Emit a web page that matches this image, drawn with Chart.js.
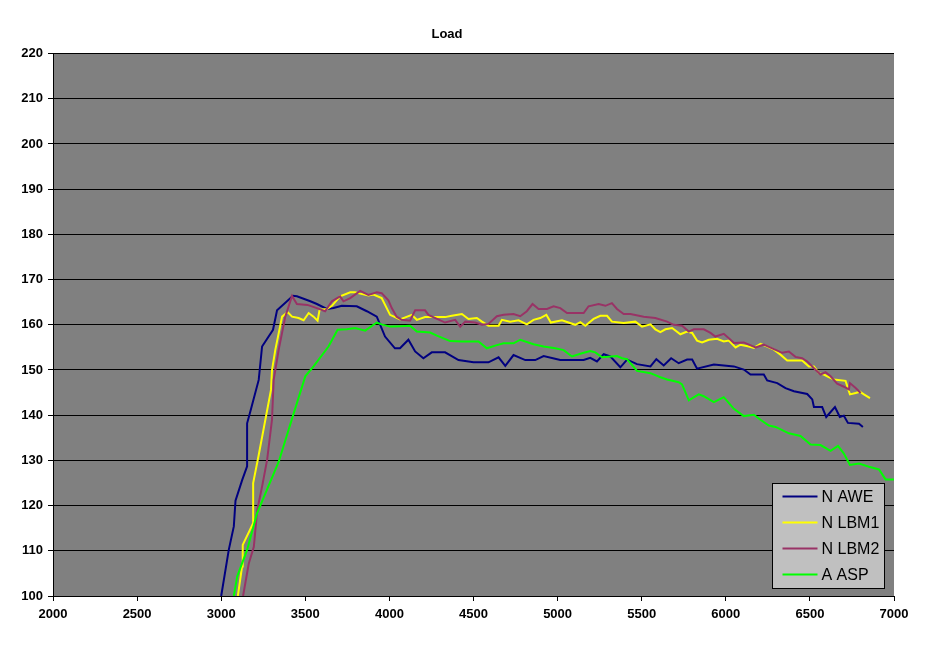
<!DOCTYPE html>
<html lang="en">
<head>
  <meta charset="UTF-8">
  <title>Load</title>
  <script src="https://cdn.jsdelivr.net/npm/chart.js@4/dist/chart.umd.min.js"></script>
  <style>
    body { margin: 0; background: #fff; }
  </style>
</head>
<body>
  <canvas id="chart" width="943" height="646"></canvas>
  <script>
    // values
    const aweX = [3000,3045,3075,3085,3125,3154,3154,3170,3223,3243,
      3308,3332,3427,3450,3530,3569,3628,3668,3717,3806,
      3866,3925,3974,4033,4063,4113,4153,4202,4252,4331,
      4411,4500,4589,4649,4689,4738,4808,4867,4917,5016,
      5155,5194,5234,5274,5313,5373,5413,5472,5552,5587,
      5631,5675,5720,5770,5800,5829,5929,6048,6107,6147,
      6226,6246,6306,6355,6405,6484,6514,6524,6573,6597,
      6649,6678,6702,6726,6792,6815];
    const aweY = [100,110.2,115.4,121.1,125.7,128.7,138.2,140.4,147.8,155.2,
      158.9,163.2,166.4,166.3,165.2,164.6,163.5,163.7,164.2,164.1,
      163.0,161.8,157.4,154.8,154.8,156.7,154.1,152.6,153.9,153.9,
      152.2,151.7,151.7,152.8,150.9,153.3,152.2,152.2,153.1,152.2,
      152.2,152.7,151.9,153.5,153.0,150.6,152.3,151.3,150.8,152.4,
      151.0,152.6,151.5,152.3,152.3,150.3,151.2,150.8,150.1,149.0,
      149.0,147.7,147.1,146.0,145.3,144.7,143.5,141.8,141.8,139.6,
      141.8,139.6,139.9,138.3,138.1,137.4];

    const lbm1X = [3099,3124,3128,3190,3190,3223,3296,3302,3322,3362,
      3395,3421,3460,3490,3520,3549,3573,3585,3628,3658,
      3707,3767,3796,3826,3875,3905,3954,4004,4063,4133,
      4163,4212,4282,4331,4371,4431,4470,4520,4550,4589,
      4649,4669,4718,4768,4817,4857,4897,4933,4960,5026,
      5105,5135,5165,5214,5254,5294,5323,5393,5462,5502,
      5552,5581,5611,5641,5681,5730,5770,5800,5829,5859,
      5899,5948,5988,6018,6058,6087,6137,6167,6206,6246,
      6286,6325,6365,6454,6494,6524,6553,6583,6609,6643,
      6712,6738,6772,6797,6821,6857];
    const lbm1Y = [100,106.5,111.3,116.1,125.0,131.2,145.6,150.0,154.5,161.8,
      162.8,161.8,161.5,161.0,162.6,161.8,160.9,163.3,163.5,164.2,
      166.3,167.2,167.2,166.9,166.5,166.7,165.9,162.2,161.2,162.2,
      161.1,161.7,161.7,161.7,162.0,162.4,161.3,161.5,160.7,159.8,
      159.8,161.1,160.7,161.0,160.1,161.1,161.5,162.2,160.5,161.0,
      160.0,160.6,159.8,161.3,162.0,162.0,160.7,160.4,160.7,159.6,
      160.1,159.0,158.4,159.0,159.3,157.9,158.5,158.2,156.5,156.1,
      156.7,156.9,156.3,156.5,155.0,155.6,155.2,154.9,155.8,155.2,
      154.5,153.4,152.1,152.1,150.8,150.8,149.3,149.0,148.5,147.9,
      147.6,144.6,144.9,145.2,144.6,143.8];

    const lbm2X = [3130,3164,3194,3214,3243,3273,3302,3312,3342,3381,
      3421,3450,3513,3569,3618,3658,3707,3727,3767,3826,
      3875,3925,3954,3994,4014,4043,4073,4123,4153,4212,
      4232,4331,4391,4421,4451,4510,4550,4589,4639,4679,
      4738,4778,4817,4851,4887,4937,4976,5016,5056,5155,
      5184,5244,5284,5323,5353,5393,5433,5512,5581,5651,
      5690,5740,5780,5810,5869,5909,5938,5988,6028,6048,
      6107,6177,6226,6286,6335,6375,6414,6454,6484,6524,
      6563,6593,6623,6662,6702,6732,6738,6772,6802];
    const lbm2Y = [100,107.2,110.9,119.0,124.2,130.1,139.0,147.8,154.5,161.8,
      166.4,164.6,164.4,163.7,163.0,165.2,166.3,165.2,165.9,167.5,
      166.6,167.2,167.0,165.4,163.7,161.8,161.1,160.9,163.2,163.2,
      162.2,160.5,161.1,159.6,160.7,160.5,160.0,160.2,161.9,162.2,
      162.4,161.9,163.0,164.6,163.5,163.5,164.1,163.7,162.6,162.6,
      164.1,164.6,164.2,164.8,163.5,162.4,162.4,161.8,161.5,160.7,
      160.0,159.8,158.5,159.0,159.0,158.2,157.4,158.0,156.7,156.0,
      156.1,155.0,155.6,154.6,153.8,154.1,152.9,152.6,151.9,150.4,
      149.0,149.5,148.6,147.0,146.3,145.7,147.1,146.0,144.9];

    const aspX = [3075,3095,3124,3154,3213,3342,3431,3500,3549,3638,
      3692,3747,3796,3856,3925,3954,4004,4063,4123,4163,
      4242,4282,4361,4431,4530,4579,4629,4679,4738,4778,
      4857,4917,4986,5036,5085,5145,5194,5224,5264,5353,
      5383,5413,5472,5552,5611,5651,5720,5740,5780,5839,
      5869,5929,5988,6048,6107,6167,6206,6256,6296,6375,
      6444,6504,6563,6623,6667,6702,6738,6792,6851,6911,
      6950,7000];
    const aspY = [100,104.3,107.2,110.2,118.3,129.7,140.4,148.6,150.8,155.2,
      158.9,159.0,159.3,158.7,160.5,160.1,159.6,159.7,159.8,158.5,
      158.3,157.6,156.4,156.3,156.3,154.8,155.4,155.9,155.9,156.7,
      155.7,155.2,154.8,154.4,153.0,153.7,154.2,153.9,152.8,153.1,
      152.6,152.4,149.8,149.3,148.4,147.9,147.3,146.8,143.3,144.6,
      144.2,142.9,144.0,141.4,139.8,140.1,139.0,137.7,137.4,136.0,
      135.4,133.5,133.4,132.1,133.2,131.5,129.0,129.3,128.6,128.0,
      125.8,125.8];

    const seriesNames = ['N AWE', 'N LBM1', 'N LBM2', 'A ASP'];
    const seriesColors = ['#000080', '#ffff00', '#993366', '#00ff00'];

    function pairs(xs, ys) {
      return xs.map((x, i) => ({ x: x, y: ys[i] }));
    }

    const FONT = '"Liberation Sans", Arial, sans-serif';

    // grey plot background
    const plotBg = {
      id: 'plotBg',
      beforeDraw(chart) {
        const a = chart.chartArea;
        const ctx = chart.ctx;
        ctx.save();
        ctx.fillStyle = '#808080';
        ctx.fillRect(a.left, a.top, a.right - a.left, a.bottom - a.top);
        ctx.restore();
      }
    };

    // Excel style legend box sitting in the bottom right of the plot
    const legendBox = {
      id: 'legendBox',
      afterDraw(chart) {
        const a = chart.chartArea;
        const ctx = chart.ctx;
        const w = 112, h = 105;
        const x0 = Math.round(a.right - 10 - w) + 0.5;
        const y0 = Math.round(a.bottom - 8 - h) + 0.5;
        ctx.save();
        ctx.fillStyle = '#c0c0c0';
        ctx.fillRect(x0, y0, w, h);
        ctx.strokeStyle = '#000';
        ctx.lineWidth = 1;
        ctx.strokeRect(x0, y0, w, h);
        ctx.font = '16px ' + FONT;
        ctx.textBaseline = 'middle';
        chart.data.datasets.forEach((ds, i) => {
          const cy = y0 + 13 + i * 26;
          ctx.strokeStyle = ds.borderColor;
          ctx.lineWidth = 2;
          ctx.beginPath();
          ctx.moveTo(x0 + 10, cy);
          ctx.lineTo(x0 + 45, cy);
          ctx.stroke();
          ctx.fillStyle = '#000';
          ctx.fillText(ds.label, x0 + 49, cy + 1);
        });
        ctx.restore();
      }
    };

    const ctx = document.getElementById('chart').getContext('2d');
    new Chart(ctx, {
      type: 'line',
      data: {
        datasets: [
          { label: seriesNames[0], data: pairs(aweX, aweY), borderColor: seriesColors[0], order: 3 },
          { label: seriesNames[1], data: pairs(lbm1X, lbm1Y), borderColor: seriesColors[1], order: 2 },
          { label: seriesNames[2], data: pairs(lbm2X, lbm2Y), borderColor: seriesColors[2], order: 1 },
          { label: seriesNames[3], data: pairs(aspX, aspY), borderColor: seriesColors[3], order: 0 }
        ]
      },
      options: {
        responsive: false,
        animation: false,
        layout: { padding: { left: 0, right: 49, top: 0, bottom: 0 } },
        elements: {
          line: { borderWidth: 2, tension: 0, fill: false },
          point: { radius: 0 }
        },
        plugins: {
          legend: { display: false },
          tooltip: { enabled: false },
          title: {
            display: true,
            text: 'Load',
            color: '#000',
            font: { family: FONT, size: 13, weight: 'bold' },
            padding: { top: 27, bottom: 11 }
          }
        },
        scales: {
          x: {
            type: 'linear',
            min: 2000,
            max: 7000,
            ticks: {
              stepSize: 500,
              color: '#000',
              padding: 6,
              maxRotation: 0,
              font: { family: FONT, size: 13, weight: 'bold' },
              callback: (v) => String(v)
            },
            grid: { drawOnChartArea: false, drawTicks: true, tickLength: 5, color: '#000' },
            border: { display: true, color: '#000' },
            afterFit(scale) { scale.height = 50; }
          },
          y: {
            min: 100,
            max: 220,
            ticks: {
              stepSize: 10,
              color: '#000',
              padding: 5,
              font: { family: FONT, size: 13, weight: 'bold' }
            },
            grid: { color: '#000', lineWidth: 1, tickLength: 5 },
            border: { display: true, color: '#000' },
            afterFit(scale) { scale.width = 53; }
          }
        }
      },
      plugins: [plotBg, legendBox]
    });
  </script>
</body>
</html>
